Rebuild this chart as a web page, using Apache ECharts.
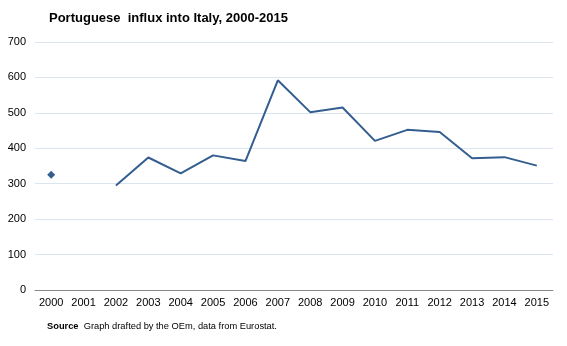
<!DOCTYPE html>
<html>
<head>
<meta charset="utf-8">
<script src="https://cdn.jsdelivr.net/npm/echarts@6/dist/echarts.min.js"></script>
<style>
html,body{margin:0;padding:0;background:#fff;}
#chart{width:567px;height:346px;}
</style>
</head>
<body>
<div id="chart"></div>
<script>
var titleText = 'Portuguese  influx into Italy, 2000-2015';
var sourceLabel = 'Source';
var sourceText = 'Graph drafted by the OEm, data from Eurostat.';
var years = ['2000','2001','2002','2003','2004','2005','2006','2007','2008','2009','2010','2011','2012','2013','2014','2015'];
var influx = [325, null, 295, 374, 329, 380, 364, 592, 502, 515, 421, 452, 446, 372, 375, 351];
var yTicks = [0, 100, 200, 300, 400, 500, 600, 700];

var chart = echarts.init(document.getElementById('chart'), null, {renderer: 'canvas'});
chart.setOption({
  backgroundColor: '#ffffff',
  animation: false,
  title: [{
    text: titleText,
    left: 49, top: 12, padding: 0,
    textStyle: {fontFamily: 'Liberation Sans', fontWeight: 'bold', fontSize: 13, color: '#000'}
  }, {
    text: '{b|' + sourceLabel + '}  ' + sourceText,
    left: 47, top: 322, padding: 0,
    textStyle: {
      fontFamily: 'Liberation Sans', fontSize: 9.3, fontWeight: 'normal', color: '#000',
      rich: {b: {fontFamily: 'Liberation Sans', fontSize: 9.3, fontWeight: 'bold', color: '#000'}}
    }
  }],
  grid: {left: 35, right: 14, top: 42, bottom: 56, containLabel: false},
  xAxis: {
    type: 'category',
    data: years,
    boundaryGap: true,
    axisLine: {show: true, lineStyle: {color: '#888888', width: 1}},
    axisTick: {show: false},
    axisLabel: {fontFamily: 'Liberation Sans', fontSize: 11, color: '#000', margin: 7, interval: 0}
  },
  yAxis: {
    type: 'value',
    min: yTicks[0], max: yTicks[yTicks.length - 1], interval: 100,
    axisLine: {show: false},
    axisTick: {show: false},
    axisLabel: {fontFamily: 'Liberation Sans', fontSize: 11, color: '#000', margin: 9},
    splitLine: {lineStyle: {color: '#dbe5f0', width: 1}}
  },
  series: [{
    type: 'line',
    data: influx,
    connectNulls: false,
    symbol: 'diamond',
    showSymbol: true,
    showAllSymbol: true,
    symbolSize: function (v, p) { return p.dataIndex === 0 ? 8 : 0; },
    itemStyle: {color: '#345e8f'},
    lineStyle: {color: '#345e8f', width: 2}
  }]
});
</script>
</body>
</html>
